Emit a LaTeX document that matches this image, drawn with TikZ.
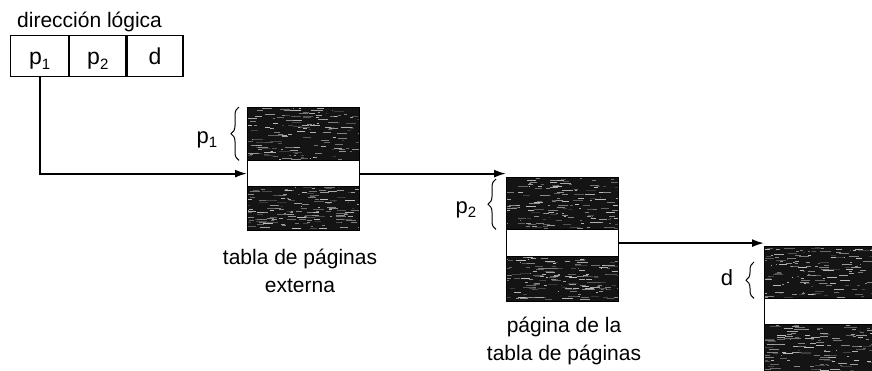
\documentclass[tikz,border=0pt]{standalone}
\usepackage{fontspec}
\setmainfont{Liberation Sans}
\usetikzlibrary{arrows.meta,decorations.pathreplacing,calc}
\newcommand{\subidx}[1]{\raisebox{-0.22em}{\fontsize{15}{15}\selectfont #1}}
\newcommand{\grainfill}[4]{%
  \begin{scope}
    \clip (#1,#2) rectangle ++(#3,#4);
    \foreach \k in {1,...,160}{
      \pgfmathsetmacro\gx{#1-6+rnd*(#3+6)}
      \pgfmathsetmacro\gy{#2+rnd*#4}
      \pgfmathsetmacro\gl{1+rnd*10}
      \pgfmathtruncatemacro\gc{25+rnd*55}
      \draw[black!\gc, line width=0.6pt] (\gx,\gy) -- ++(\gl,0);
    }
  \end{scope}}
\tikzset{
  darkblk/.style={fill=black!92, minimum width=112pt, inner sep=0pt, anchor=north west},
  entry/.style={fill=white, minimum width=112pt, inner sep=0pt, anchor=north west},
  tabout/.style={draw=black, line width=1pt},
  cell/.style={draw=black, line width=1.2pt, inner sep=0pt, minimum height=41pt,
    text height=16pt, text depth=0pt, anchor=north west, font=\fontsize{23}{23}\selectfont},
  lbl/.style={inner sep=0pt, anchor=base, font=\fontsize{21}{25}\selectfont},
  blbl/.style={inner sep=0pt, anchor=base, font=\fontsize{22}{25}\selectfont},
  arr/.style={line width=1.8pt, -{Latex[length=12pt,width=8pt]}},
  brc/.style={decorate, decoration={brace, amplitude=8pt}, line width=1pt},
}
\begin{document}
\begin{tikzpicture}[x=1pt,y=-1pt]
\clip (0,0) rectangle (872,370);
\fill[white] (0,0) rectangle (872,370);
\pgfmathsetseed{7}

% logical address
\node[lbl, anchor=base west] (titulo) at (17,27) {dirección lógica};
\node[cell, minimum width=58pt] (c1) at (10,35) {p\subidx{1}};
\node[cell, minimum width=56pt] (c2) at (c1.north east) {p\subidx{2}};
\node[cell, minimum width=56pt] (c3) at (c2.north east) {d};

% outer page table
\node[darkblk, minimum height=53pt] (t1a) at (247,107) {};
\node[entry, minimum height=26pt] (t1b) at (t1a.south west) {};
\node[darkblk, minimum height=43pt] (t1c) at (t1b.south west) {};
\grainfill{247}{107}{112}{53}
\grainfill{247}{186}{112}{43}
\draw[tabout] (t1a.north west) rectangle (t1c.south east);
\draw[tabout] (t1b.north west) -- (t1b.north east) (t1b.south west) -- (t1b.south east);

% page of page table
\node[darkblk, minimum height=52pt] (t2a) at (506,177) {};
\node[entry, minimum height=27pt] (t2b) at (t2a.south west) {};
\node[darkblk, minimum height=44pt] (t2c) at (t2b.south west) {};
\grainfill{506}{177}{112}{52}
\grainfill{506}{256}{112}{44}
\draw[tabout] (t2a.north west) rectangle (t2c.south east);
\draw[tabout] (t2b.north west) -- (t2b.north east) (t2b.south west) -- (t2b.south east);

% memory page
\node[darkblk, minimum height=52pt] (t3a) at (764,246) {};
\node[entry, minimum height=26pt] (t3b) at (t3a.south west) {};
\node[darkblk, minimum height=50pt] (t3c) at (t3b.south west) {};
\grainfill{764}{246}{112}{52}
\grainfill{764}{324}{112}{50}
\draw[tabout] (t3a.north west) rectangle (t3c.south east);
\draw[tabout] (t3b.north west) -- (t3b.north east) (t3b.south west) -- (t3b.south east);

% connectors
\draw[arr] (c1.south) |- (t1b.west);
\draw[arr] (t1b.east) -- (t1b.east -| t2a.west);
\draw[arr] (t2b.east) -- (t2b.east -| t3a.west);

% braces
\draw[brc] ([xshift=-8pt]t1a.south west) -- ([xshift=-8pt]t1a.north west);
\draw[brc] ([xshift=-10pt]t2a.south west) -- ([xshift=-10pt,yshift=-2pt]t2a.north west);
\draw[brc] ([xshift=-10pt]t3a.south west) -- ([xshift=-10pt,yshift=-16pt]t3a.north west);
\node[blbl] (lp1) at (207,143) {p\subidx{1}};
\node[blbl] (lp2) at (466,213) {p\subidx{2}};
\node[blbl] (ld) at (727,285) {d};

% captions
\node[lbl] (ext1) at (300,264) {tabla de páginas};
\node[lbl] (ext2) at (300,292) {externa};
\node[lbl] (pt1) at (564,332) {página de la};
\node[lbl] (pt2) at (564,360) {tabla de páginas};
\end{tikzpicture}
\end{document}
